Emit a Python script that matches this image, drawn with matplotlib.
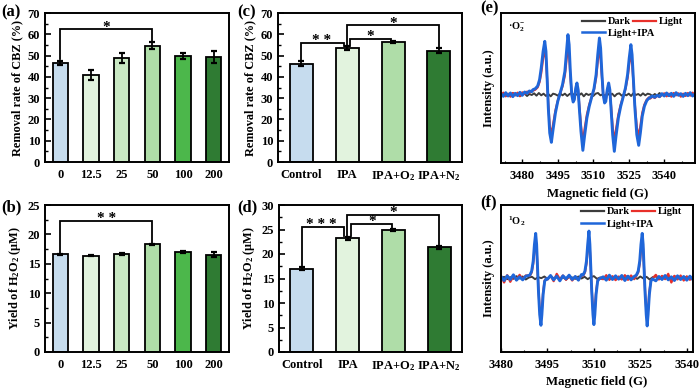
import numpy as np
import matplotlib
matplotlib.use('Agg')
import matplotlib.pyplot as plt
from matplotlib.ticker import MultipleLocator
from matplotlib.lines import Line2D

plt.rcParams['font.family'] = ['Liberation Serif', 'DejaVu Serif']
plt.rcParams['font.weight'] = 'bold'
plt.rcParams['axes.labelweight'] = 'bold'
plt.rcParams['mathtext.fontset'] = 'custom'
plt.rcParams['mathtext.rm'] = 'Liberation Serif:bold'
plt.rcParams['mathtext.it'] = 'Liberation Serif:italic:bold'
plt.rcParams['mathtext.bf'] = 'Liberation Serif:bold'
plt.rcParams['mathtext.default'] = 'rm'

# ---------------- bar data ----------------
conc_labels = ['0', '12.5', '25', '50', '100', '200']
removal_conc = [46.5, 40.8, 48.8, 54.6, 49.8, 49.2]
removal_conc_err = [1.0, 2.3, 2.3, 1.7, 1.5, 2.8]
h2o2_conc = [16.6, 16.4, 16.65, 18.3, 17.05, 16.55]
h2o2_conc_err = [0.1, 0.12, 0.15, 0.12, 0.2, 0.4]

cond_labels = ['Control', 'IPA', 'IPA+O$_2$', 'IPA+N$_2$']
removal_cond = [46.2, 53.6, 56.4, 52.3]
removal_cond_err = [1.1, 0.8, 0.5, 1.1]
h2o2_cond = [17.0, 23.2, 24.9, 21.4]
h2o2_cond_err = [0.35, 0.35, 0.3, 0.3]

conc_colors = ['#c6dcee', '#e2f3de', '#c9e8c3', '#afdda8', '#4cb74b', '#2f7b33']
cond_colors = ['#c6dcee', '#e2f3de', '#afdda8', '#2f7b33']

# ---------------- EPR data (e): .O2- ----------------
e_sig_field = [3484.5, 3485.5, 3486.5, 3487.3, 3488.0, 3488.8, 3489.5, 3490.0, 3490.5, 3491.0,
               3491.6, 3492.3, 3493.0, 3494.0, 3495.0, 3496.0, 3497.0, 3498.0, 3498.7, 3499.3,
               3499.8, 3500.3, 3500.9, 3501.5, 3502.0, 3502.6, 3503.1, 3503.6, 3504.1, 3504.8,
               3505.6, 3506.3, 3507.3, 3508.3, 3509.3, 3510.3, 3511.2, 3511.9, 3512.6, 3513.1,
               3513.6, 3514.2, 3514.8, 3515.3, 3515.9, 3516.5, 3517.0, 3517.5, 3518.2, 3518.9,
               3519.6, 3520.6, 3521.6, 3522.6, 3523.6, 3524.5, 3525.2, 3525.9, 3526.4, 3527.0,
               3527.6, 3528.4, 3529.2, 3529.9, 3530.7, 3531.6, 3532.6, 3533.6]
e_blue_sig = [15, 18, 26, 45, 80, 130, 160, 130, 50, -40, -115, -143, -105, -55, -20, 5, 30, 70,
              130, 180, 150, 70, 0, -22, -15, 20, 35, 15, -40, -110, -167, -125, -70, -35, -8, 18,
              60, 120, 170, 140, 70, 0, -25, -20, 15, 35, 15, -40, -120, -170, -125, -70, -35, -8,
              20, 60, 110, 150, 120, 40, -40, -120, -152, -115, -65, -35, -18, -10]
e_red_sig = [12, 15, 22, 38, 65, 108, 135, 110, 45, -30, -95, -120, -90, -48, -18, 4, 25, 58,
             105, 140, 120, 58, 0, -18, -12, 16, 28, 12, -32, -92, -145, -105, -60, -30, -7, 15,
             50, 100, 135, 112, 58, 0, -20, -16, 12, 28, 12, -32, -98, -140, -105, -60, -30, -7,
             17, 50, 92, 120, 98, 33, -32, -98, -125, -95, -55, -30, -15, -8]
e_left_field = [3471, 3472, 3473, 3474, 3475, 3476, 3477, 3478, 3479, 3480, 3481, 3482, 3483, 3484]
e_blue_left = [3, -5, 6, -4, 5, -6, 4, -3, 7, -2, 8, 4, 11, 9]
e_red_left = [-4, 6, -5, 3, -6, 5, -2, 6, -4, 7, 2, 9, 6, 12]
e_right_field = [3534, 3535, 3536, 3537, 3538, 3539, 3540, 3541, 3542, 3543,
                 3544, 3545, 3546, 3547, 3548, 3549, 3550, 3551, 3552, 3553]
e_blue_right = [-9, -4, -8, -2, -6, 3, -4, 5, -3, 4, -5, 6, -2, 3, -5, 4, -3, 6, -4, 2]
e_red_right = [-12, -6, -10, -3, -7, -1, 4, -5, 3, -6, 5, -2, 4, -6, 3, -4, 5, -3, 6, -5]
e_dark = [-2, 3, -4, 2, -3, 5, -2, 4, -5, 1, 3, -4, 2, -1, 4, -3, 5, -2, 3, -4, 2, -5, 3, 1,
          -3, 4, -2, 3, -4, 2, 5, -3, 1, -2, 4, -5, 3, -1, 2, -4, 3, 5, -2, 1, -3, 4, -2, 3,
          -5, 2, 4, -3, 1, -2, 3, -4, 5, -1, 2, -3, 4, -2, 3, 1, -4, 2, -3, 5, -2, 1, 3, -4,
          2, -3, 4, -1, 2, -5, 3, -2, 4, -3, 1]

# ---------------- EPR data (f): 1O2 ----------------
f_sig_field = [3489.3, 3489.9, 3490.4, 3490.8, 3491.2, 3491.5, 3491.8, 3492.1, 3492.5, 3492.9, 3493.2, 3493.6, 3494.1, 3494.6,
               3506.5, 3507.1, 3507.6, 3508.0, 3508.4, 3508.7, 3509.0, 3509.3, 3509.7, 3510.0, 3510.3, 3510.7, 3511.2, 3511.7,
               3523.7, 3524.3, 3524.8, 3525.2, 3525.6, 3525.9, 3526.2, 3526.5, 3526.9, 3527.2, 3527.5, 3527.9, 3528.4, 3528.9]
f_blue_sig = [8, 20, 50, 100, 133, 100, 30, -40, -110, -142, -110, -50, -10, -3,
              8, 20, 50, 100, 140, 100, 30, -40, -110, -140, -110, -50, -10, -3,
              8, 20, 50, 100, 133, 100, 30, -40, -110, -144, -110, -50, -10, -3]
f_red_sig = [6, 16, 42, 85, 115, 85, 25, -35, -95, -120, -95, -42, -8, -2,
             6, 16, 42, 85, 120, 85, 25, -35, -95, -122, -95, -42, -8, -2,
             6, 16, 42, 85, 112, 85, 25, -35, -95, -125, -95, -42, -8, -2]
f_base_field = list(range(3480, 3543))
f_blue_noise = [4, -8, 6, -5, 9, -7, 3, -6, 5, -4, 7, -3, 6, -5, 4, -4, 7, -6, 5, -9, 6, -3, 8, -5, 4,
                -7, 10, 6, -8, 5, -4, 9, -6, 3, -7, 8, -5, 6, -4, 7, -8, 5, -6, 4, -3, 8, -7, 5, -4,
                6, -9, 4, -5, 7, -6, 3, -8, 6, -5, 4, -7, 5, -6]
f_red_noise = [6, -14, 8, -12, 5, -6, 9, -4, 7, -5, 6, -8, 4, -6, 9, -5, 6, -10, 12, -4, 7, -6, 5, -8, 4,
               -6, 8, -5, 6, -7, 5, -9, 6, -4, 8, -6, 5, -7, 4, -5, 8, -6, 7, -4, 6, -8, 5, -6, 4,
               -7, 9, -5, 6, -4, 12, -14, 6, -5, 7, -8, 4, -6, 5]
f_dark = [-2, 3, -4, 2, -3, 5, -2, 4, -5, 1, 3, -4, 2, -1, 4, -3, 5, -2, 3, -4, 2, -5, 3, 1, -3,
          4, -2, 3, -4, 2, 5, -3, 1, -2, 4, -5, 3, -1, 2, -4, 3, 5, -2, 1, -3, 4, -2, 3, -5, 2,
          4, -3, 1, -2, 3, -4, 5, -1, 2, -3, 4, -2, 3]

BLUE = '#1f66d9'
RED = '#e8302a'
DARK = '#3c3c3c'

fig = plt.figure(figsize=(7, 3.9), dpi=100)
ax_a = fig.add_axes([45/700, 1-162/390, 184/700, 149/390])
ax_b = fig.add_axes([45/700, 1-352/390, 184/700, 147/390])
ax_c = fig.add_axes([278/700, 1-162/390, 184/700, 149/390])
ax_d = fig.add_axes([279/700, 1-352/390, 183/700, 147/390])
ax_e = fig.add_axes([501/700, 1-163/390, 194/700, 150/390])
ax_f = fig.add_axes([501/700, 1-352/390, 192/700, 147/390])

FS = 9


def style_bar_axis(ax, ymax, major, minor, ylabel):
    for s in ax.spines.values():
        s.set_linewidth(1.4)
    ax.set_ylim(0, ymax)
    ax.yaxis.set_major_locator(MultipleLocator(major))
    ax.yaxis.set_minor_locator(MultipleLocator(minor))
    ax.tick_params(axis='y', which='major', direction='in', length=4, width=1.2, labelsize=FS)
    ax.tick_params(axis='y', which='minor', direction='in', length=2, width=1.0)
    ax.tick_params(axis='x', length=0, labelsize=FS, pad=5)
    ax.set_ylabel(ylabel, fontsize=8.8, labelpad=3)


def bars(ax, labels, vals, errs, colors):
    x = np.arange(len(labels))
    ax.bar(x, vals, width=0.5, color=colors, edgecolor='black', linewidth=1.3, zorder=2)
    ax.errorbar(x, vals, yerr=errs, fmt='none', ecolor='black', elinewidth=1.3,
                capsize=2.5, capthick=1.6, zorder=3)
    ax.set_xticks(x)
    ax.set_xticklabels(labels)
    ax.set_xlim(-0.5, len(labels) - 0.5)


def bracket(ax, x1, x2, y, b1, b2, text, tx):
    ax.plot([x1, x1, x2, x2], [b1, y, y, b2], color='black', lw=1.3, zorder=4,
            solid_joinstyle='miter')
    ax.annotate(text, xy=(tx, y), xytext=(0, -1.0), textcoords='offset points',
                ha='center', va='baseline', fontsize=11, fontweight='bold')


# (a)
bars(ax_a, conc_labels, removal_conc, removal_conc_err, conc_colors)
style_bar_axis(ax_a, 70, 10, 5, 'Removal rate of CBZ (%)')
bracket(ax_a, 0, 3, 62.4, 48.5, 57.0, '*', 1.5)

# (b)
bars(ax_b, conc_labels, h2o2_conc, h2o2_conc_err, conc_colors)
style_bar_axis(ax_b, 25, 5, 2.5, 'Yield of H$_2$O$_2$ (μM)')
bracket(ax_b, 0, 3, 22.3, 16.7, 18.45, '* *', 1.5)

# (c)
bars(ax_c, cond_labels, removal_cond, removal_cond_err, cond_colors)
style_bar_axis(ax_c, 70, 10, 5, 'Removal rate of CBZ (%)')
bracket(ax_c, 0, 0.93, 55.9, 47.8, 54.4, '* *', 0.45)
bracket(ax_c, 1.07, 1.96, 58.0, 54.4, 57.0, '*', 1.5)
bracket(ax_c, 0.99, 3.0, 64.2, 54.4, 53.6, '*', 2.0)

# (d)
bars(ax_d, cond_labels, h2o2_cond, h2o2_cond_err, cond_colors)
style_bar_axis(ax_d, 30, 5, 2.5, 'Yield of H$_2$O$_2$ (μM)')
bracket(ax_d, 0, 0.91, 25.5, 17.4, 23.6, '* * *', 0.43)
bracket(ax_d, 1.07, 1.97, 26.1, 23.6, 25.3, '*', 1.53)
bracket(ax_d, 0.99, 3.0, 28.0, 23.6, 21.8, '*', 2.0)


def assemble(segments):
    xs, ys = [], []
    for fx, fy in segments:
        xs.extend(fx)
        ys.extend(fy)
    order = np.argsort(xs)
    return np.array(xs)[order], np.array(ys)[order]


def style_epr(ax, xlim, ylim, tag, tag_y, leg_y1, leg_y2):
    for s in ax.spines.values():
        s.set_linewidth(1.4)
    ax.set_xlim(*xlim)
    ax.set_ylim(*ylim)
    ax.set_yticks([])
    ax.xaxis.set_major_locator(MultipleLocator(15))
    ax.xaxis.set_minor_locator(MultipleLocator(7.5))
    ax.tick_params(axis='x', which='major', direction='in', length=3, width=1.0, labelsize=FS, pad=5)
    ax.tick_params(axis='x', which='minor', direction='in', length=1.5, width=0.8)
    ax.set_xlabel('Magnetic field (G)', fontsize=9.3, labelpad=4)
    ax.set_ylabel('Intensity (a.u.)', fontsize=9, labelpad=4)
    ax.text(0.035, tag_y, tag, transform=ax.transAxes, fontsize=7.5, fontweight='bold',
            ha='left', va='center')
    kw = dict(frameon=False, fontsize=7.5, handlelength=2.25, handletextpad=0.3,
              columnspacing=0.15, borderpad=0, borderaxespad=0, loc='center left')
    h_dark = Line2D([], [], color=DARK, lw=1.6)
    h_light = Line2D([], [], color=RED, lw=1.6)
    h_ipa = Line2D([], [], color=BLUE, lw=1.8)
    leg1 = ax.legend([h_dark, h_light], ['Dark', 'Light'], ncol=2,
                     bbox_to_anchor=(0.415, leg_y1), **kw)
    ax.add_artist(leg1)
    ax.legend([h_ipa], ['Light+IPA'], bbox_to_anchor=(0.415, leg_y2), **kw)


# (e)
ex_blue, ey_blue = assemble([(e_left_field, e_blue_left), (e_sig_field, e_blue_sig),
                             (e_right_field, e_blue_right)])
ex_red, ey_red = assemble([(e_left_field, e_red_left), (e_sig_field, e_red_sig),
                           (e_right_field, e_red_right)])
e_dark_field = np.linspace(3471, 3553, len(e_dark))
ax_e.plot(e_dark_field, e_dark, color=DARK, lw=1.4)
ax_e.plot(ex_red, ey_red, color=RED, lw=1.6)
ax_e.plot(ex_blue, ey_blue, color=BLUE, lw=2.1)
style_epr(ax_e, (3471, 3553), (-205, 245), '·O$_2^{-}$', 0.905, 0.942, 0.865)

# (f)
f_sig_arr = np.array(f_sig_field)
windows = [(f_sig_arr[i * 14] - 0.3, f_sig_arr[i * 14 + 13] + 0.3) for i in range(3)]
keep = [not any(a <= fx <= b for a, b in windows) for fx in f_base_field]
fb_x = [fx for fx, k in zip(f_base_field, keep) if k]
fb_blue = [v for v, k in zip(f_blue_noise, keep) if k]
fb_red = [v for v, k in zip(f_red_noise, keep) if k]
fx_blue, fy_blue = assemble([(fb_x, fb_blue), (f_sig_field, f_blue_sig)])
fx_red, fy_red = assemble([(fb_x, fb_red), (f_sig_field, f_red_sig)])
ax_f.plot(f_base_field, f_dark, color=DARK, lw=1.4)
ax_f.plot(fx_red, fy_red, color=RED, lw=1.6)
ax_f.plot(fx_blue, fy_blue, color=BLUE, lw=2.1)
style_epr(ax_f, (3480, 3542), (-222, 218), '$^{1}$O$_2$', 0.89, 0.954, 0.87)

# panel labels
for lbl, x, y in [('(a)', 1, 12), ('(b)', 1, 207), ('(c)', 237, 12), ('(d)', 237, 207),
                  ('(e)', 480, 8), ('(f)', 480, 202)]:
    fig.text(x / 700, 1 - y / 390, lbl, fontsize=12, fontweight='bold', ha='left', va='center')

fig.savefig('out.png', dpi=100)
